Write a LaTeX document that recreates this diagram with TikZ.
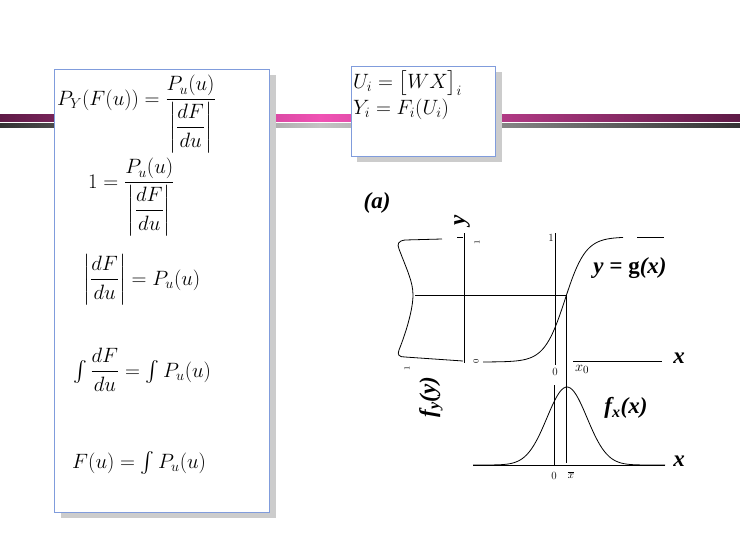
\documentclass[tikz,border=0pt]{standalone}
\usepackage{amsmath}
\usepackage{fontspec}
\newfontfamily\lblfont{Liberation Serif}
\usetikzlibrary{positioning}

\definecolor{barpink}{HTML}{F052B4}
\definecolor{bardark}{HTML}{5E1A46}
\definecolor{greylight}{HTML}{C4C4C4}
\definecolor{greydark}{HTML}{333333}
\definecolor{boxblue}{HTML}{809CDC}
\definecolor{boxshade}{HTML}{CCCCCC}

\begin{document}
\begin{tikzpicture}[x=1pt,y=-1pt,
    eqn/.style={anchor=base west,inner sep=0pt,font=\fontsize{20}{24}\selectfont},
    panel/.style={draw=boxblue,fill=white,line width=1pt},
    panelshadow/.style={fill=boxshade},
    lbl/.style={inner sep=0pt,font=\lblfont\bfseries\itshape\fontsize{23}{26}\selectfont},
    tick/.style={inner sep=0pt,font=\fontsize{8}{9}\selectfont},
    axisnum/.style={inner sep=0pt,font=\fontsize{11}{12}\selectfont},
    curve/.style={line width=0.8pt}]
  \useasboundingbox (0,0) rectangle (740,555);
  % stripes behind the panels
  \shade[left color=bardark,right color=barpink] (0,114) rectangle (320,121);
  \shade[left color=barpink,right color=bardark] (320,114) rectangle (740,121);
  \shade[left color=greydark,right color=greylight] (0,123) rectangle (320,127);
  \shade[left color=greylight,right color=greydark] (320,123) rectangle (740,127);
  % panels
  \fill[panelshadow] (61,75) rectangle (276,518);
  \draw[panel] (54,69) rectangle (269,512);
  \fill[panelshadow] (357,72) rectangle (502,162);
  \draw[panel] (351,66) rectangle (495,156);
  % left panel
  \node[eqn] (pyf) at (57,105) {$P_Y(F(u))=\dfrac{P_u(u)}{\left|\dfrac{dF}{du}\right|}$};
  \node[eqn] (one) at (88,188) {$1=\dfrac{P_u(u)}{\left|\dfrac{dF}{du}\right|}$};
  \node[eqn] (absdf) at (83,285) {$\left|\dfrac{dF}{du}\right|=P_u(u)$};
  \node[eqn] (intdf) at (73,377) {$\int\dfrac{dF}{du}=\int P_u(u)$};
  \node[eqn] (fint) at (72,468) {$F(u)=\int P_u(u)$};
  % right panel
  \node[eqn] (ui) at (353,88) {$U_i=\bigl[WX\bigr]_i$};
  \node[eqn] (yi) at (353,114) {$Y_i=F_i(U_i)$};
  % (a) upper graph
  \node[lbl] (tag) at (377,203) {(a)};
  \draw[curve] (464,233) -- (464,363);
  \draw[curve] (457,237) -- (463,237);
  \draw[curve] (555,233) -- (555,365);
  \draw[curve] (566,295) -- (566,463);
  \draw[curve] (415,295) -- (566,295);
  \draw[curve] (573,361) -- (662,361);
  \draw[curve] (637,237) -- (664,237);
  \draw[curve] plot[domain=483:623,samples=80] (\x,{362-125/(1+exp(-(\x-565)/10.3))});
  \draw[curve] (442,239) -- (405,240) .. controls (398,241) and (397,244) .. (399,249)
    .. controls (407,270) and (413,282) .. (413,295)
    .. controls (413,308) and (407,330) .. (399,350)
    .. controls (397,355) and (399,357) .. (405,357) -- (463,361);
  \node[lbl,rotate=90] (ylab) at (462,220) {y};
  \node[tick,rotate=90] (yone) at (477,242) {1};
  \node[tick,rotate=90] (yzero) at (476,361) {0};
  \node[tick,rotate=90] (fone) at (407,368) {1};
  \node[axisnum] (gone) at (551,238) {1};
  \node[axisnum] (gzero) at (555,372) {0};
  \node[inner sep=0pt,font=\fontsize{15}{16}\selectfont] (xzero) at (582,369) {$x_0$};
  \node[lbl] (xa) at (679,358) {x};
  \node[lbl] (glab) at (630,268) {y = \textup{g}(x)};
  \node[lbl,rotate=90] (fylab) at (431,397) {f\textsubscript{y}(y)};
  % lower graph
  \draw[curve] (473,465) -- (665,465);
  \draw[curve] (554,385) -- (554,465);
  \draw[curve] plot[domain=473:665,samples=90] (\x,{465-78*exp(-(\x-567)^2/800)});
  \node[lbl] (fxlab) at (626,408) {f\textsubscript{x}(x)};
  \node[lbl] (xb) at (679,461) {x};
  \node[axisnum] (hzero) at (554,476) {0};
  \node[axisnum] (xbar) at (571,475) {$\overline{x}$};
\end{tikzpicture}
\end{document}
